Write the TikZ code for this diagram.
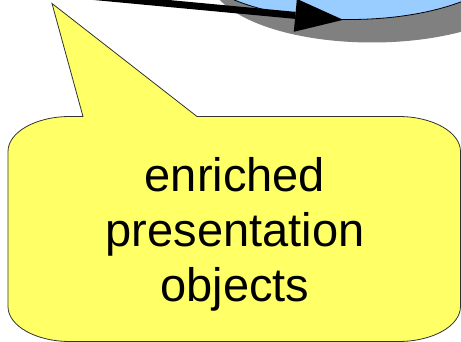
\documentclass[tikz,border=0pt]{standalone}
\usepackage{fontspec}
\setmainfont{Liberation Sans}
\usetikzlibrary{arrows.meta,shapes.geometric}
\definecolor{callyellow}{HTML}{FFFF66}
\definecolor{diskblue}{HTML}{99CCFF}
\definecolor{shadowgray}{HTML}{808080}
\tikzset{
  disklook/.style={ellipse, draw=black, line width=0.8pt, fill=diskblue, inner sep=0pt,
    minimum width=324pt, minimum height=130pt},
  shadowlook/.style={ellipse, fill=shadowgray, inner sep=0pt,
    minimum width=324pt, minimum height=130pt},
  calloutlook/.style={draw=black!80, line width=0.8pt, fill=callyellow, line join=miter},
  linktip/.style={-{Triangle[length=48pt,width=33pt,line width=0pt]}, line width=7pt, black},
  calltext/.style={anchor=base, inner sep=0pt, font=\fontsize{47pt}{55pt}\selectfont}
}
\begin{document}
\begin{tikzpicture}[x=1pt,y=1pt]
\useasboundingbox (0,0) rectangle (461,-342);
% disk with shadow
\node[shadowlook] (diskshadow) at (372,22.5) {};
\node[disklook] (disk) at (350,45.5) {};
% connector from off-picture source
\coordinate (src) at (-30,15.1);
\draw[linktip] (src) -- (disk.264);
% callout
\draw[calloutlook] (83,-116.5) -- (52,-3.5) -- (197,-116.5) -- (398.5,-116.5)
  arc[start angle=90, end angle=0, x radius=62, y radius=35]
  -- (460.5,-306.5)
  arc[start angle=0, end angle=-90, x radius=62, y radius=35]
  -- (70,-341.5)
  arc[start angle=-90, end angle=-180, x radius=62, y radius=35]
  -- (8,-151.5)
  arc[start angle=180, end angle=90, x radius=62, y radius=35]
  -- cycle;
\node[calltext] (t1) at (235,-191.7) {enriched};
\node[calltext] (t2) at (235,-246.7) {presentation};
\node[calltext] (t3) at (235,-301.7) {objects};
\end{tikzpicture}
\end{document}
